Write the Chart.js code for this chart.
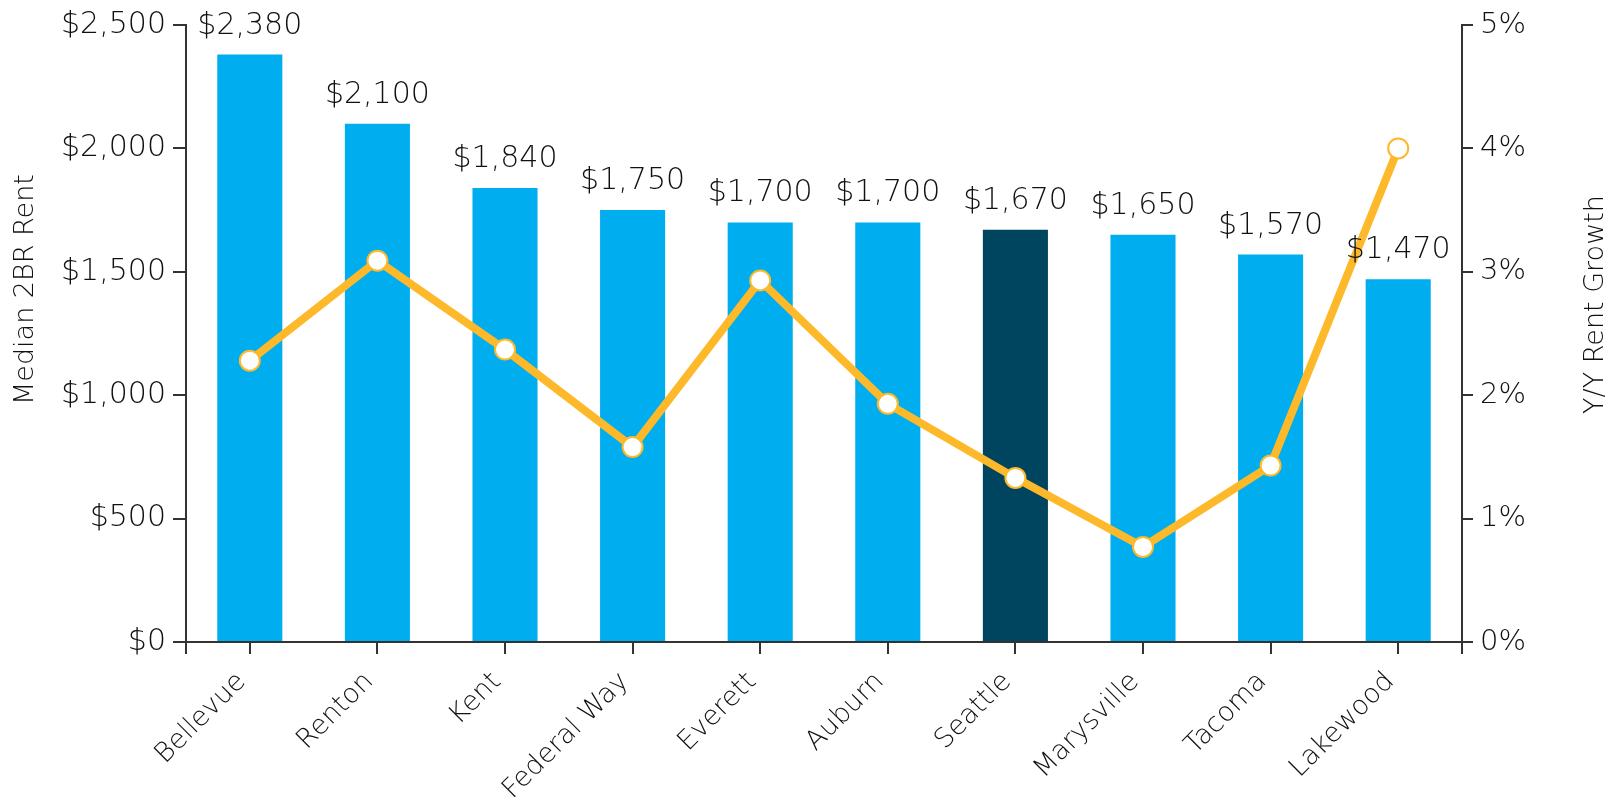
<!DOCTYPE html>
<html>
<head>
<meta charset="utf-8">
<script src="https://cdn.jsdelivr.net/npm/chart.js@4.4.1/dist/chart.umd.min.js"></script>
<style>
  html, body { margin: 0; padding: 0; background: #fff; }
  #wrap { width: 1617px; height: 798px; position: relative; }
</style>
</head>
<body>
<div id="wrap"><canvas id="chart"></canvas></div>
<script>
// Дані графіка
const cities = ['Bellevue', 'Renton', 'Kent', 'Federal Way', 'Everett', 'Auburn', 'Seattle', 'Marysville', 'Tacoma', 'Lakewood'];
const medianRent = [2380, 2100, 1840, 1750, 1700, 1700, 1670, 1650, 1570, 1470];
const rentGrowth = [2.28, 3.09, 2.37, 1.58, 2.93, 1.93, 1.33, 0.77, 1.43, 4.0];
const highlightCity = 'Seattle';
const leftTitle = 'Median 2BR Rent';
const rightTitle = 'Y/Y Rent Growth';

const FONT = '"DejaVu Sans", sans-serif';
const WEIGHT = 300;
const TEXT = '#111111';
const AXIS = '#333333';

const barColors = cities.map(c => c === highlightCity ? '#00455f' : '#00aeef');

// Підписи над стовпцями
const barLabels = {
  id: 'barLabels',
  afterDatasetsDraw(chart) {
    const meta = chart.getDatasetMeta(1);
    const ctx = chart.ctx;
    ctx.save();
    ctx.font = WEIGHT + ' 30px ' + FONT;
    ctx.fillStyle = TEXT;
    ctx.textAlign = 'center';
    ctx.textBaseline = 'alphabetic';
    meta.data.forEach((bar, i) => {
      ctx.fillText('$' + medianRent[i].toLocaleString('en-US'), bar.x, bar.y - 21);
    });
    ctx.restore();
  }
};

// Назви осей (обидві читаються знизу вгору)
const axisTitles = {
  id: 'axisTitles',
  afterDraw(chart) {
    const { ctx, chartArea, scales } = chart;
    const cy = (chartArea.top + chartArea.bottom) / 2;
    ctx.save();
    ctx.font = WEIGHT + ' 27px ' + FONT;
    ctx.fillStyle = TEXT;
    ctx.textAlign = 'center';
    ctx.textBaseline = 'middle';
    [[scales.y.left + 26, cy - 44, leftTitle], [scales.y1.right - 21, cy - 29, rightTitle]].forEach(([x, y, text]) => {
      ctx.save();
      ctx.translate(x, y);
      ctx.rotate(-Math.PI / 2);
      ctx.fillText(text, 0, 0);
      ctx.restore();
    });
    ctx.restore();
  }
};

// Продовження осей нижче нуля
const axisCorners = {
  id: 'axisCorners',
  afterDraw(chart) {
    const { ctx, chartArea } = chart;
    ctx.save();
    ctx.strokeStyle = AXIS;
    ctx.lineWidth = 2;
    ctx.beginPath();
    ctx.moveTo(chartArea.left, chartArea.bottom);
    ctx.lineTo(chartArea.left, chartArea.bottom + 12);
    ctx.moveTo(chartArea.right, chartArea.bottom);
    ctx.lineTo(chartArea.right, chartArea.bottom + 12);
    ctx.stroke();
    ctx.restore();
  }
};

Chart.defaults.font.family = FONT;
Chart.defaults.font.weight = WEIGHT;
Chart.defaults.color = TEXT;

new Chart(document.getElementById('chart'), {
  data: {
    labels: cities,
    datasets: [
      {
        type: 'line',
        label: rightTitle,
        data: rentGrowth,
        yAxisID: 'y1',
        order: 0,
        borderColor: '#fdb92a',
        borderWidth: 8,
        tension: 0,
        pointRadius: 10,
        pointBackgroundColor: '#ffffff',
        pointBorderColor: '#fdb92a',
        pointBorderWidth: 2
      },
      {
        type: 'bar',
        label: leftTitle,
        data: medianRent,
        yAxisID: 'y',
        order: 1,
        backgroundColor: barColors,
        barPercentage: 0.51,
        categoryPercentage: 1
      }
    ]
  },
  options: {
    responsive: true,
    maintainAspectRatio: false,
    animation: false,
    layout: { padding: { top: 25, left: 0, right: 0, bottom: 0 } },
    plugins: {
      legend: { display: false },
      tooltip: { enabled: false }
    },
    scales: {
      x: {
        afterFit(scale) { scale.height = 156; },
        grid: { offset: false, drawOnChartArea: false, drawTicks: true, tickLength: 12, color: AXIS, lineWidth: 2 },
        border: { display: true, color: AXIS, width: 2 },
        ticks: {
          font: { size: 27 },
          color: TEXT,
          maxRotation: 45,
          minRotation: 45,
          padding: 12,
          labelOffset: -8,
          autoSkip: false
        }
      },
      y: {
        position: 'left',
        min: 0,
        max: 2500,
        afterFit(scale) { scale.width = 186; },
        grid: { drawOnChartArea: false, drawTicks: true, tickLength: 13, color: AXIS, lineWidth: 2 },
        border: { display: true, color: AXIS, width: 2 },
        ticks: {
          stepSize: 500,
          padding: 7,
          font: { size: 30 },
          color: TEXT,
          callback: v => '$' + v.toLocaleString('en-US')
        }
      },
      y1: {
        position: 'right',
        min: 0,
        max: 5,
        afterFit(scale) { scale.width = 155; },
        grid: { drawOnChartArea: false, drawTicks: true, tickLength: 11, color: AXIS, lineWidth: 2 },
        border: { display: true, color: AXIS, width: 2 },
        ticks: {
          stepSize: 1,
          padding: 7,
          font: { size: 29 },
          color: TEXT,
          callback: v => v + '%'
        }
      }
    }
  },
  plugins: [barLabels, axisTitles, axisCorners]
});
</script>
</body>
</html>
